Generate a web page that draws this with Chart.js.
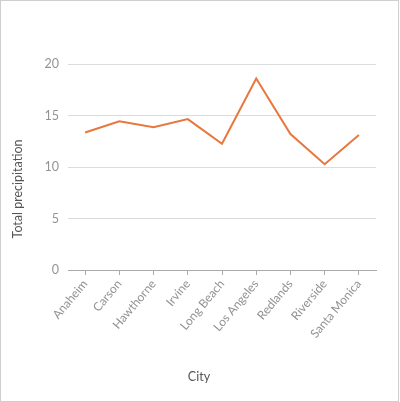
<!DOCTYPE html>
<html>
<head>
<meta charset="utf-8">
<script src="https://cdn.jsdelivr.net/npm/chart.js@4/dist/chart.umd.min.js"></script>
<style>
  html, body { margin: 0; padding: 0; background: #fff; }
  #frame { position: absolute; left: 0; top: 0; width: 397px; height: 400px; border: 1px solid #cfcfcf; }
  #wrap { position: absolute; left: 0; top: 0; width: 400px; height: 402px; }
</style>
</head>
<body>
<div id="frame"></div>
<div id="wrap"><canvas id="c"></canvas></div>
<script>
const cities = ['Anaheim', 'Carson', 'Hawthorne', 'Irvine', 'Long Beach', 'Los Angeles', 'Redlands', 'Riverside', 'Santa Monica'];
const precipitation = [13.35, 14.43, 13.85, 14.65, 12.25, 18.6, 13.2, 10.27, 13.1];
const yTicks = [0, 5, 10, 15, 20];
const xTitle = 'City';
const yTitle = 'Total precipitation';

const FONT = 'Lato, "Open Sans", sans-serif';

const titlePlugin = {
  id: 'axisTitles',
  afterDraw(chart) {
    const ctx = chart.ctx;
    ctx.save();
    ctx.fillStyle = '#555';
    ctx.font = '12.5px ' + FONT;
    ctx.textAlign = 'center';
    ctx.textBaseline = 'middle';
    ctx.fillText(xTitle, 199, 377);
    ctx.translate(18, 189);
    ctx.rotate(-Math.PI / 2);
    ctx.fillText(yTitle, 0, 0);
    ctx.restore();
  }
};

new Chart(document.getElementById('c'), {
  type: 'line',
  data: {
    labels: cities,
    datasets: [{
      data: precipitation,
      borderColor: '#e8773d',
      borderWidth: 2,
      pointRadius: 0,
      pointHoverRadius: 0,
      tension: 0,
      fill: false
    }]
  },
  options: {
    responsive: true,
    maintainAspectRatio: false,
    animation: false,
    layout: { padding: { top: 64, right: 24, bottom: 32, left: 0 } },
    plugins: { legend: { display: false }, tooltip: { enabled: false } },
    scales: {
      x: {
        offset: true,
        grid: { display: true, drawOnChartArea: false, drawTicks: true, tickLength: 5, color: '#aaa' },
        border: { display: true, color: '#aaa' },
        ticks: {
          autoSkip: false, maxRotation: 50, minRotation: 50, padding: 2,
          color: '#939393', font: { family: FONT, size: 12 }
        },
        afterFit(scale) { scale.height = 100; }
      },
      y: {
        min: 0, max: 20,
        afterBuildTicks(scale) { scale.ticks = yTicks.map(v => ({ value: v })); },
        grid: { color: '#dcdcdc', drawTicks: false },
        border: { display: false },
        ticks: { padding: 9, color: '#939393', font: { family: FONT, size: 12.5 } },
        afterFit(scale) { scale.width = 68; }
      }
    }
  },
  plugins: [titlePlugin]
});
</script>
</body>
</html>
